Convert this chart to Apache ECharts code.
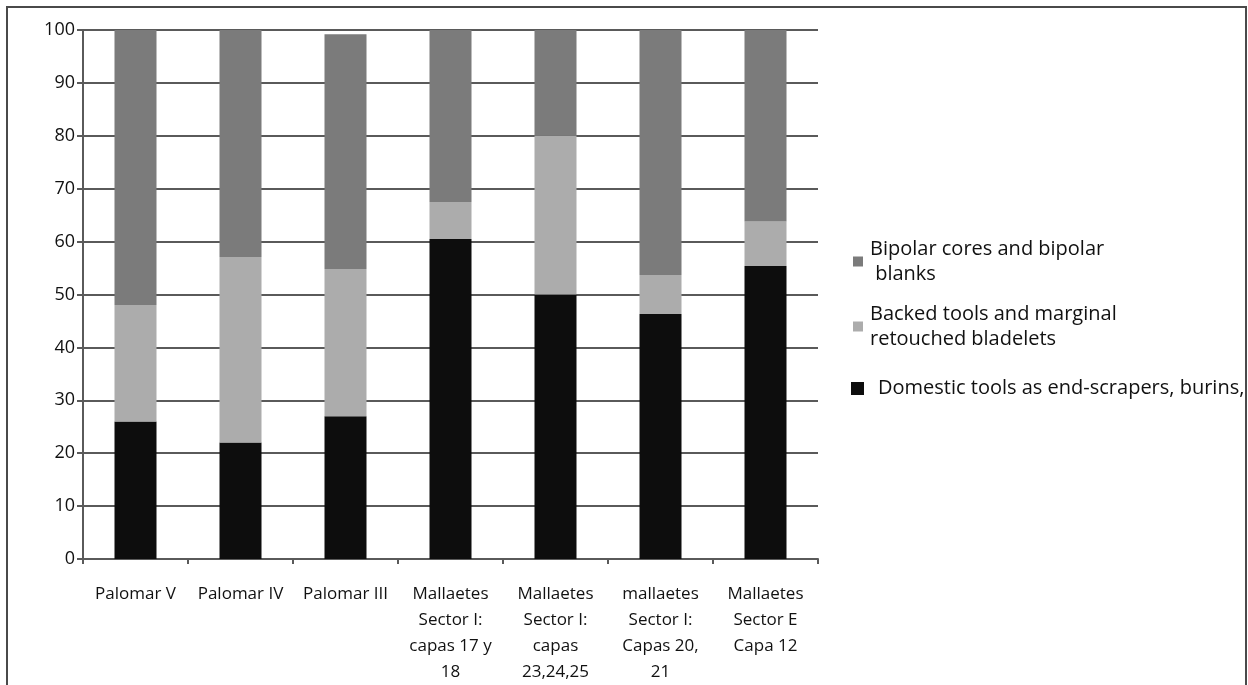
<!DOCTYPE html>
<html>
<head>
<meta charset="utf-8">
<script src="https://cdn.jsdelivr.net/npm/echarts@6/dist/echarts.min.js"></script>
<style>
  html, body { margin: 0; padding: 0; background: #fff; overflow: hidden; }
  #chart { width: 1248px; height: 685px; }
  #frame { position: absolute; left: 6px; top: 6px; width: 1237px; height: 700px;
           border: 2px solid #4a4a4a; pointer-events: none; }
</style>
</head>
<body>
<div id="chart"></div>
<div id="frame"></div>
<script>
const categories = [
    'Palomar V',
    'Palomar IV',
    'Palomar III',
    'Mallaetes\nSector I:\ncapas 17 y\n18',
    'Mallaetes\nSector I:\ncapas\n23,24,25',
    'mallaetes\nSector I:\nCapas 20,\n21',
    'Mallaetes\nSector E\nCapa 12'
];
const domesticTools = [26, 22, 27, 60.5, 50, 46.3, 55.4];
const backedTools = [22, 35.1, 27.8, 7, 30, 7.4, 8.4];
const bipolarCores = [52, 42.9, 44.4, 32.5, 20, 46.3, 36.2];
const yTicks = [0, 10, 20, 30, 40, 50, 60, 70, 80, 90, 100];

const nameDomestic = 'Domestic tools as end-scrapers, burins, etc';
const nameBacked = 'Backed tools and marginal\nretouched bladelets';
const nameBipolar = 'Bipolar cores and bipolar\n blanks';

const font = '"Open Sans", Lato, sans-serif';
const gridColor = '#5a5a5a';

function legendFor(name, top, twoLines, size) {
    return {
        data: [name],
        orient: 'vertical',
        left: twoLines ? 848 : 846,
        top: top,
        icon: 'rect',
        itemWidth: size,
        itemHeight: size,
        itemGap: 0,
        textStyle: {
            fontFamily: font,
            fontSize: 20,
            color: '#111',
            lineHeight: 25,
            padding: twoLines ? [25, 0, 0, 2] : [0, 0, 0, 9]
        }
    };
}

const chart = echarts.init(document.getElementById('chart'));
chart.setOption({
    animation: false,
    grid: { left: 83, right: 430, top: 30, bottom: 126 },
    legend: [
        legendFor(nameBipolar, 219, true, 10),
        legendFor(nameBacked, 284, true, 10),
        legendFor(nameDomestic, 371, false, 13)
    ],
    xAxis: {
        type: 'category',
        data: categories,
        axisLine: { lineStyle: { color: gridColor, width: 2 } },
        axisTick: { show: true, length: 5, lineStyle: { color: gridColor, width: 2 } },
        axisLabel: {
            interval: 0,
            margin: 22,
            fontFamily: font,
            fontSize: 17,
            lineHeight: 26,
            color: '#111',
            align: 'center'
        }
    },
    yAxis: {
        type: 'value',
        min: yTicks[0],
        max: yTicks[yTicks.length - 1],
        interval: 10,
        axisLine: { show: true, lineStyle: { color: gridColor, width: 2 } },
        axisTick: { show: true, length: 6, lineStyle: { color: gridColor, width: 2 } },
        splitLine: { lineStyle: { color: gridColor, width: 2 } },
        axisLabel: {
            margin: 8,
            fontFamily: font,
            fontSize: 18,
            color: '#111'
        }
    },
    series: [
        {
            name: nameDomestic,
            type: 'bar',
            stack: 'total',
            barWidth: '40%',
            itemStyle: { color: '#0d0d0d' },
            data: domesticTools
        },
        {
            name: nameBacked,
            type: 'bar',
            stack: 'total',
            itemStyle: { color: '#acacac' },
            data: backedTools
        },
        {
            name: nameBipolar,
            type: 'bar',
            stack: 'total',
            itemStyle: { color: '#7b7b7b' },
            data: bipolarCores
        }
    ]
});
window.addEventListener('resize', () => chart.resize());
</script>
</body>
</html>
